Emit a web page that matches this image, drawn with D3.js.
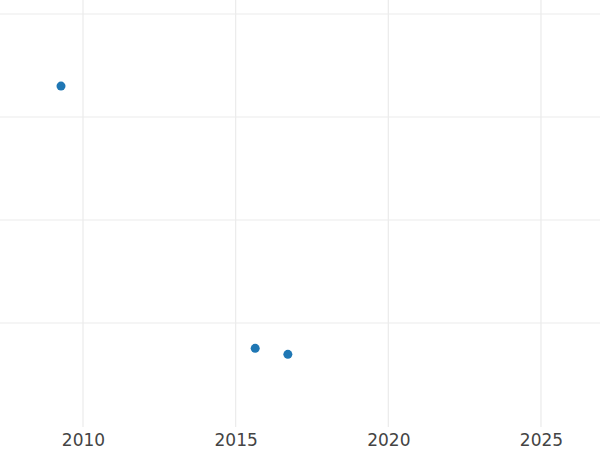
<!DOCTYPE html>
<html>
<head>
<meta charset="utf-8">
<script src="https://cdn.jsdelivr.net/npm/d3@7"></script>
<style>
  body { margin: 0; background: #fff; }
  #container { width: 600px; height: 450px; }
</style>
</head>
<body>
<div id="container"></div>
<script>
// Data
const years = [2009.28, 2015.64, 2016.71];
const values = [3.30, 0.754, 0.696];
const xTicks = [2010, 2015, 2020, 2025];
const yTicks = [1, 2, 3, 4];

// Chart dimensions
const width = 600;
const height = 450;
const plotBottom = 427;

const x = d3.scaleLinear()
  .domain([2007.282, 2026.933])
  .range([0, width]);

const y = d3.scaleLinear()
  .domain([0, 4])
  .range([426, 14]);

const svg = d3.create("svg").attr("width", width).attr("height", height);
document.getElementById("container").appendChild(svg.node());

// horizontal grid
svg.append("g")
  .selectAll("line")
  .data(yTicks)
  .join("line")
  .attr("x1", 0)
  .attr("x2", width)
  .attr("y1", d => y(d))
  .attr("y2", d => y(d))
  .attr("stroke", "#ebebeb")
  .attr("stroke-width", 1.2);

// vertical grid
svg.append("g")
  .selectAll("line")
  .data(xTicks)
  .join("line")
  .attr("x1", d => x(d))
  .attr("x2", d => x(d))
  .attr("y1", 0)
  .attr("y2", plotBottom)
  .attr("stroke", "#ebebeb")
  .attr("stroke-width", 1.2);

// x axis labels
const xAxis = svg.append("g")
  .attr("transform", `translate(0,${plotBottom})`)
  .call(d3.axisBottom(x).tickValues(xTicks).tickFormat(d3.format("d")).tickSize(0).tickPadding(7));
xAxis.select(".domain").remove();
xAxis.selectAll("text")
  .attr("font-family", "DejaVu Sans, sans-serif")
  .attr("font-size", 17)
  .attr("fill", "#444");

// points
svg.append("g")
  .selectAll("circle")
  .data(years.map((d, i) => ({ year: d, value: values[i] })))
  .join("circle")
  .attr("cx", d => x(d.year))
  .attr("cy", d => y(d.value))
  .attr("r", 4.5)
  .attr("fill", "#1f77b4");
</script>
</body>
</html>
